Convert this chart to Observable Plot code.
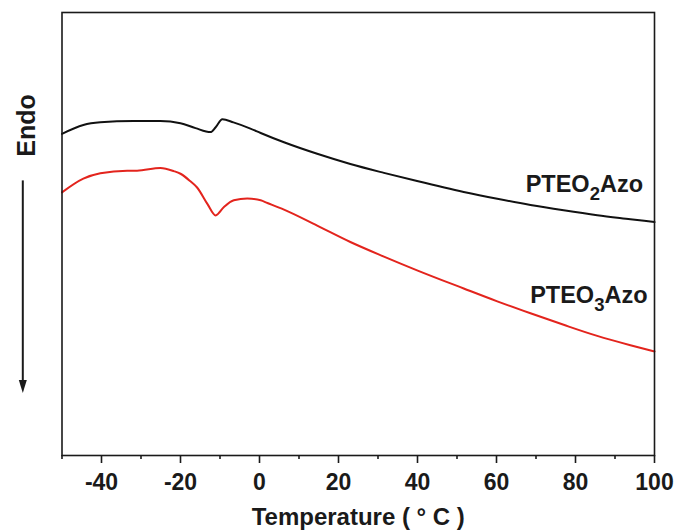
<!DOCTYPE html>
<html>
<head>
<meta charset="utf-8">
<script src="https://cdn.jsdelivr.net/npm/d3@7"></script>
<script src="https://cdn.jsdelivr.net/npm/@observablehq/plot@0.6"></script>
<style>
  html, body { margin: 0; padding: 0; background: #fff; }
  #chart { width: 677px; height: 532px; overflow: hidden; }
</style>
</head>
<body>
<div id="chart"></div>
<script>
// ---- data ----
const seriesNames = ["PTEO2Azo", "PTEO3Azo"];
const seriesColors = ["#111111", "#e3241d"];

const blackT = [-50, -44.6, -40.3, -31.9, -25.1, -20, -16.2, -12.4, -11.1, -9.4, -6.6, -2.3, 0.3, 6.2, 14.6, 23, 31.5, 39.9, 51.7, 60.2, 68.6, 77, 85.5, 93.9, 100];
const blackV = [72.6, 74.6, 75.2, 75.5, 75.5, 75.0, 73.9, 73.0, 74.1, 75.9, 75.2, 73.8, 72.8, 70.7, 68.1, 65.8, 63.8, 61.95, 59.5, 57.95, 56.55, 55.35, 54.25, 53.35, 52.7];

const redT = [-50, -44.6, -40.3, -33.5, -31, -25.1, -21.7, -20, -17.5, -15.8, -13.2, -11.1, -9, -6.5, -3.1, 0.3, 2, 6.2, 14.6, 23, 31.5, 39.9, 51.7, 60.2, 68.6, 77, 85.5, 93.9, 100];
const redV = [59.4, 62.5, 63.7, 64.3, 64.3, 64.9, 64.2, 63.6, 61.9, 60.5, 56.8, 54.2, 56.1, 57.6, 58.0, 57.6, 57.0, 55.5, 51.9, 48.2, 44.9, 41.8, 37.7, 34.8, 32.1, 29.5, 27.0, 24.9, 23.5];

const xDomain = [-50, 100];
const yDomain = [0, 100];
const majorTicks = [-40, -20, 0, 20, 40, 60, 80, 100];
const minorTicks = [-50, -30, -10, 10, 30, 50, 70, 90];
const xLabel = "Temperature ( ° C )";
const yLabel = "Endo";
const endoArrow = [{from: 62.1, to: 14.1}];

// ---- build table ----
const rows = [];
blackT.forEach((t, i) => rows.push({series: seriesNames[0], t, v: blackV[i]}));
redT.forEach((t, i) => rows.push({series: seriesNames[1], t, v: redV[i]}));
const ends = seriesNames.map(s => {
  const r = rows.filter(d => d.series === s);
  return r[r.length - 1];
});

const font = "'Liberation Sans', Arial, Helvetica, sans-serif";
const ink = "#1a1a1a";

const arrowHead = {
  draw(ctx) {
    ctx.moveTo(0, 0);
    ctx.lineTo(-4, -13);
    ctx.lineTo(4, -13);
    ctx.closePath();
  }
};

const plot = Plot.plot({
  width: 677,
  height: 532,
  marginLeft: 61.5,
  marginRight: 23,
  marginTop: 12,
  marginBottom: 77,
  style: {fontFamily: font, fontWeight: "bold", color: ink, background: "#fff", overflow: "visible"},
  x: {domain: xDomain},
  y: {domain: yDomain, axis: null},
  color: {domain: seriesNames, range: seriesColors},
  marks: [
    Plot.line(rows, {x: "t", y: "v", z: "series", stroke: "series", strokeWidth: 2, curve: "monotone-x"}),
    Plot.frame({stroke: ink, strokeWidth: 1.6}),
    Plot.axisX({ticks: majorTicks, tickSize: 8, tickPadding: 10, tickFormat: d => String(d), fontSize: 23, fontWeight: "bold", strokeWidth: 1.6, label: null}),
    Plot.axisX({ticks: minorTicks, tickSize: 4, tickFormat: () => "", strokeWidth: 1.6, label: null}),
    Plot.text([xLabel], {text: d => d, frameAnchor: "bottom", lineAnchor: "top", dy: 52, fontSize: 24, fontWeight: "bold", fill: ink}),
    Plot.text([yLabel], {text: d => d, x: () => xDomain[0], y: () => 74.5, rotate: -90, dx: -35.5, lineAnchor: "middle", fontSize: 25, fontWeight: "bold", fill: ink}),
    Plot.link(endoArrow, {x1: () => xDomain[0], x2: () => xDomain[0], y1: "from", y2: d => d.to + 2.5, dx: -39.2, stroke: ink, strokeWidth: 2}),
    Plot.dot(endoArrow, {x: () => xDomain[0], y: "to", dx: -39.2, symbol: arrowHead, r: 5, fill: ink, stroke: "none"}),
    Plot.text([ends[0]], {x: "t", y: "v", text: "series", textAnchor: "end", lineAnchor: "middle", dx: -11.5, dy: -37.5, fontSize: 23.5, fontWeight: "bold", fill: ink}),
    Plot.text([ends[1]], {x: "t", y: "v", text: "series", textAnchor: "end", lineAnchor: "middle", dx: -7, dy: -55.5, fontSize: 23.5, fontWeight: "bold", fill: ink})
  ]
});

// subscript digits in the series labels
plot.querySelectorAll("text").forEach(el => {
  const s = el.textContent;
  if (seriesNames.includes(s)) {
    const m = s.match(/^(\D+)(\d)(\D+)$/);
    if (m) {
      el.textContent = "";
      const ns = "http://www.w3.org/2000/svg";
      const a = document.createElementNS(ns, "tspan"); a.textContent = m[1];
      const b = document.createElementNS(ns, "tspan"); b.textContent = m[2];
      b.setAttribute("dy", "7.5"); b.setAttribute("font-size", "18.5");
      const c = document.createElementNS(ns, "tspan"); c.textContent = m[3];
      c.setAttribute("dy", "-7.5");
      el.append(a, b, c);
    }
  }
});

document.getElementById("chart").append(plot);
</script>
</body>
</html>
